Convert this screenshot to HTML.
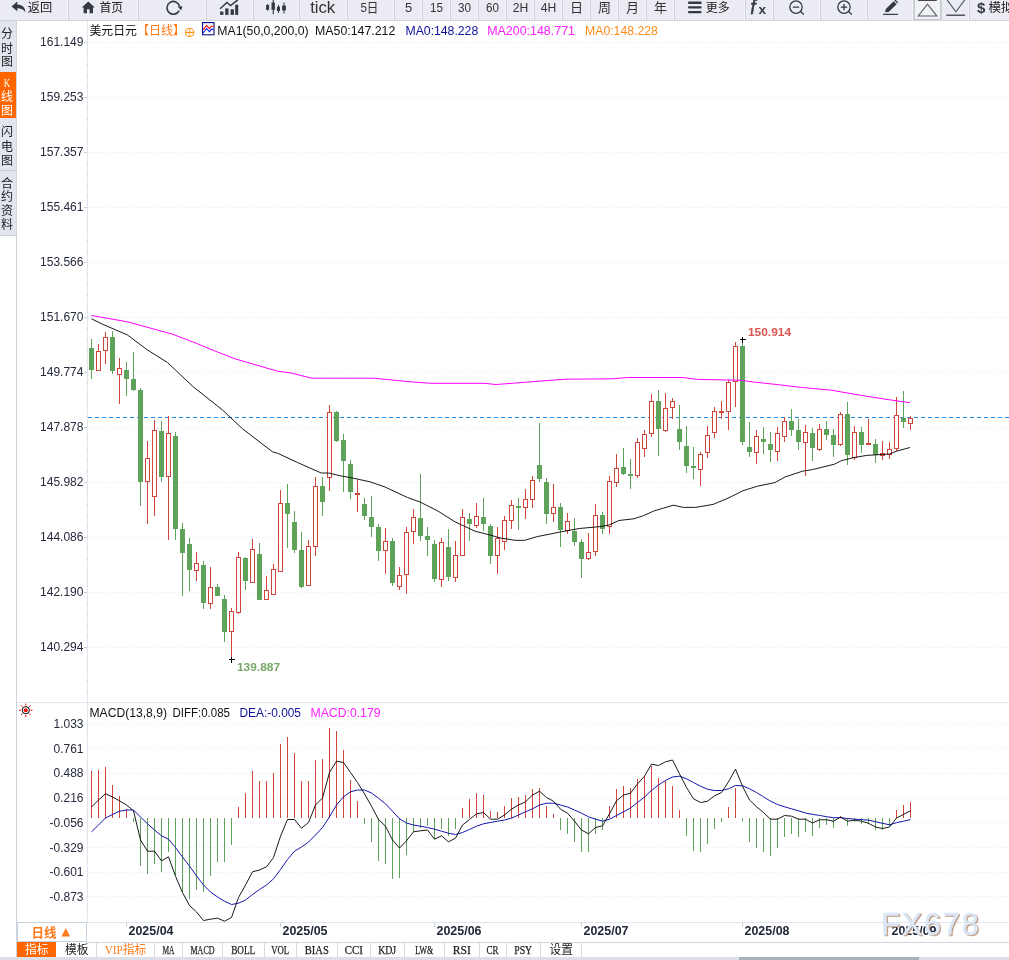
<!DOCTYPE html><html lang="zh"><head><meta charset="utf-8"><title>美元日元 日线</title>
<style>html,body{margin:0;padding:0;background:#fff;}body{width:1009px;height:960px;overflow:hidden;position:relative;font-family:"Liberation Sans","Noto Sans CJK SC",sans-serif;}svg{position:absolute;left:0;top:0;display:block}text{font-family:"Liberation Sans","Noto Sans CJK SC",sans-serif;}</style></head><body>
<svg width="1009" height="960" viewBox="0 0 1009 960">
<rect width="1009" height="960" fill="#fff"/>
<g id="chart">
<g shape-rendering="crispEdges">
<line x1="88" x2="1009" y1="42.5" y2="42.5" stroke="#e5eaf1" stroke-dasharray="1 2"/>
<line x1="88" x2="1009" y1="97.5" y2="97.5" stroke="#e5eaf1" stroke-dasharray="1 2"/>
<line x1="88" x2="1009" y1="152.5" y2="152.5" stroke="#e5eaf1" stroke-dasharray="1 2"/>
<line x1="88" x2="1009" y1="207.5" y2="207.5" stroke="#e5eaf1" stroke-dasharray="1 2"/>
<line x1="88" x2="1009" y1="262.5" y2="262.5" stroke="#e5eaf1" stroke-dasharray="1 2"/>
<line x1="88" x2="1009" y1="317.5" y2="317.5" stroke="#e5eaf1" stroke-dasharray="1 2"/>
<line x1="88" x2="1009" y1="372.5" y2="372.5" stroke="#e5eaf1" stroke-dasharray="1 2"/>
<line x1="88" x2="1009" y1="427.5" y2="427.5" stroke="#e5eaf1" stroke-dasharray="1 2"/>
<line x1="88" x2="1009" y1="482.5" y2="482.5" stroke="#e5eaf1" stroke-dasharray="1 2"/>
<line x1="88" x2="1009" y1="537.5" y2="537.5" stroke="#e5eaf1" stroke-dasharray="1 2"/>
<line x1="88" x2="1009" y1="592.5" y2="592.5" stroke="#e5eaf1" stroke-dasharray="1 2"/>
<line x1="88" x2="1009" y1="647.5" y2="647.5" stroke="#e5eaf1" stroke-dasharray="1 2"/>
<line x1="88" x2="1009" y1="723.5" y2="723.5" stroke="#e5eaf1" stroke-dasharray="1 2"/>
<line x1="88" x2="1009" y1="748.5" y2="748.5" stroke="#e5eaf1" stroke-dasharray="1 2"/>
<line x1="88" x2="1009" y1="773.5" y2="773.5" stroke="#e5eaf1" stroke-dasharray="1 2"/>
<line x1="88" x2="1009" y1="798.5" y2="798.5" stroke="#e5eaf1" stroke-dasharray="1 2"/>
<line x1="88" x2="1009" y1="822.5" y2="822.5" stroke="#e5eaf1" stroke-dasharray="1 2"/>
<line x1="88" x2="1009" y1="847.5" y2="847.5" stroke="#e5eaf1" stroke-dasharray="1 2"/>
<line x1="88" x2="1009" y1="872.5" y2="872.5" stroke="#e5eaf1" stroke-dasharray="1 2"/>
<line x1="88" x2="1009" y1="896.5" y2="896.5" stroke="#e5eaf1" stroke-dasharray="1 2"/>
<line x1="87.5" x2="87.5" y1="21" y2="922" stroke="#e0e6ee"/>
<line x1="84.0" x2="87" y1="42.5" y2="42.5" stroke="#c8ced8"/>
<line x1="86.0" x2="87" y1="53.5" y2="53.5" stroke="#d3dae3"/>
<line x1="86.0" x2="87" y1="64.5" y2="64.5" stroke="#d3dae3"/>
<line x1="86.0" x2="87" y1="75.5" y2="75.5" stroke="#d3dae3"/>
<line x1="86.0" x2="87" y1="86.5" y2="86.5" stroke="#d3dae3"/>
<line x1="84.0" x2="87" y1="97.5" y2="97.5" stroke="#c8ced8"/>
<line x1="86.0" x2="87" y1="108.5" y2="108.5" stroke="#d3dae3"/>
<line x1="86.0" x2="87" y1="119.5" y2="119.5" stroke="#d3dae3"/>
<line x1="86.0" x2="87" y1="130.5" y2="130.5" stroke="#d3dae3"/>
<line x1="86.0" x2="87" y1="141.5" y2="141.5" stroke="#d3dae3"/>
<line x1="84.0" x2="87" y1="152.5" y2="152.5" stroke="#c8ced8"/>
<line x1="86.0" x2="87" y1="163.5" y2="163.5" stroke="#d3dae3"/>
<line x1="86.0" x2="87" y1="174.5" y2="174.5" stroke="#d3dae3"/>
<line x1="86.0" x2="87" y1="185.5" y2="185.5" stroke="#d3dae3"/>
<line x1="86.0" x2="87" y1="196.5" y2="196.5" stroke="#d3dae3"/>
<line x1="84.0" x2="87" y1="207.5" y2="207.5" stroke="#c8ced8"/>
<line x1="86.0" x2="87" y1="218.5" y2="218.5" stroke="#d3dae3"/>
<line x1="86.0" x2="87" y1="229.5" y2="229.5" stroke="#d3dae3"/>
<line x1="86.0" x2="87" y1="240.5" y2="240.5" stroke="#d3dae3"/>
<line x1="86.0" x2="87" y1="251.5" y2="251.5" stroke="#d3dae3"/>
<line x1="84.0" x2="87" y1="262.5" y2="262.5" stroke="#c8ced8"/>
<line x1="86.0" x2="87" y1="273.5" y2="273.5" stroke="#d3dae3"/>
<line x1="86.0" x2="87" y1="284.5" y2="284.5" stroke="#d3dae3"/>
<line x1="86.0" x2="87" y1="295.5" y2="295.5" stroke="#d3dae3"/>
<line x1="86.0" x2="87" y1="306.5" y2="306.5" stroke="#d3dae3"/>
<line x1="84.0" x2="87" y1="317.5" y2="317.5" stroke="#c8ced8"/>
<line x1="86.0" x2="87" y1="328.5" y2="328.5" stroke="#d3dae3"/>
<line x1="86.0" x2="87" y1="339.5" y2="339.5" stroke="#d3dae3"/>
<line x1="86.0" x2="87" y1="350.5" y2="350.5" stroke="#d3dae3"/>
<line x1="86.0" x2="87" y1="361.5" y2="361.5" stroke="#d3dae3"/>
<line x1="84.0" x2="87" y1="372.5" y2="372.5" stroke="#c8ced8"/>
<line x1="86.0" x2="87" y1="383.5" y2="383.5" stroke="#d3dae3"/>
<line x1="86.0" x2="87" y1="394.5" y2="394.5" stroke="#d3dae3"/>
<line x1="86.0" x2="87" y1="405.5" y2="405.5" stroke="#d3dae3"/>
<line x1="86.0" x2="87" y1="416.5" y2="416.5" stroke="#d3dae3"/>
<line x1="84.0" x2="87" y1="427.5" y2="427.5" stroke="#c8ced8"/>
<line x1="86.0" x2="87" y1="438.5" y2="438.5" stroke="#d3dae3"/>
<line x1="86.0" x2="87" y1="449.5" y2="449.5" stroke="#d3dae3"/>
<line x1="86.0" x2="87" y1="460.5" y2="460.5" stroke="#d3dae3"/>
<line x1="86.0" x2="87" y1="471.5" y2="471.5" stroke="#d3dae3"/>
<line x1="84.0" x2="87" y1="482.5" y2="482.5" stroke="#c8ced8"/>
<line x1="86.0" x2="87" y1="493.5" y2="493.5" stroke="#d3dae3"/>
<line x1="86.0" x2="87" y1="504.5" y2="504.5" stroke="#d3dae3"/>
<line x1="86.0" x2="87" y1="515.5" y2="515.5" stroke="#d3dae3"/>
<line x1="86.0" x2="87" y1="526.5" y2="526.5" stroke="#d3dae3"/>
<line x1="84.0" x2="87" y1="537.5" y2="537.5" stroke="#c8ced8"/>
<line x1="86.0" x2="87" y1="548.5" y2="548.5" stroke="#d3dae3"/>
<line x1="86.0" x2="87" y1="559.5" y2="559.5" stroke="#d3dae3"/>
<line x1="86.0" x2="87" y1="570.5" y2="570.5" stroke="#d3dae3"/>
<line x1="86.0" x2="87" y1="581.5" y2="581.5" stroke="#d3dae3"/>
<line x1="84.0" x2="87" y1="592.5" y2="592.5" stroke="#c8ced8"/>
<line x1="86.0" x2="87" y1="603.5" y2="603.5" stroke="#d3dae3"/>
<line x1="86.0" x2="87" y1="614.5" y2="614.5" stroke="#d3dae3"/>
<line x1="86.0" x2="87" y1="625.5" y2="625.5" stroke="#d3dae3"/>
<line x1="86.0" x2="87" y1="636.5" y2="636.5" stroke="#d3dae3"/>
<line x1="84.0" x2="87" y1="647.5" y2="647.5" stroke="#c8ced8"/>
<line x1="86.0" x2="87" y1="658.5" y2="658.5" stroke="#d3dae3"/>
<line x1="86.0" x2="87" y1="669.5" y2="669.5" stroke="#d3dae3"/>
<line x1="86.0" x2="87" y1="680.5" y2="680.5" stroke="#d3dae3"/>
<line x1="86.0" x2="87" y1="691.5" y2="691.5" stroke="#d3dae3"/>
<line x1="85.5" x2="87" y1="723.5" y2="723.5" stroke="#e0e6ee"/>
<line x1="85.5" x2="87" y1="735.9" y2="735.9" stroke="#e0e6ee"/>
<line x1="85.5" x2="87" y1="748.2" y2="748.2" stroke="#e0e6ee"/>
<line x1="85.5" x2="87" y1="760.6" y2="760.6" stroke="#e0e6ee"/>
<line x1="85.5" x2="87" y1="772.9" y2="772.9" stroke="#e0e6ee"/>
<line x1="85.5" x2="87" y1="785.3" y2="785.3" stroke="#e0e6ee"/>
<line x1="85.5" x2="87" y1="797.6" y2="797.6" stroke="#e0e6ee"/>
<line x1="85.5" x2="87" y1="810.0" y2="810.0" stroke="#e0e6ee"/>
<line x1="85.5" x2="87" y1="822.3" y2="822.3" stroke="#e0e6ee"/>
<line x1="85.5" x2="87" y1="834.7" y2="834.7" stroke="#e0e6ee"/>
<line x1="85.5" x2="87" y1="847.0" y2="847.0" stroke="#e0e6ee"/>
<line x1="85.5" x2="87" y1="859.4" y2="859.4" stroke="#e0e6ee"/>
<line x1="85.5" x2="87" y1="871.7" y2="871.7" stroke="#e0e6ee"/>
<line x1="85.5" x2="87" y1="884.1" y2="884.1" stroke="#e0e6ee"/>
<line x1="85.5" x2="87" y1="896.4" y2="896.4" stroke="#e0e6ee"/>
<line x1="85.5" x2="87" y1="908.8" y2="908.8" stroke="#e0e6ee"/>
<line x1="17" x2="1009" y1="702.5" y2="702.5" stroke="#e0e6ee"/>
<line x1="17" x2="1009" y1="922.5" y2="922.5" stroke="#e0e6ee"/>
<line x1="87" x2="1009" y1="942.5" y2="942.5" stroke="#cdd6e0"/>
<line x1="16.5" x2="16.5" y1="235" y2="957" stroke="#cdd3dd"/>
<line x1="126.5" x2="126.5" y1="923" y2="927" stroke="#c5cfda"/>
<line x1="280.5" x2="280.5" y1="923" y2="927" stroke="#c5cfda"/>
<line x1="434.5" x2="434.5" y1="923" y2="927" stroke="#c5cfda"/>
<line x1="581.5" x2="581.5" y1="923" y2="927" stroke="#c5cfda"/>
<line x1="742.5" x2="742.5" y1="923" y2="927" stroke="#c5cfda"/>
<line x1="889.5" x2="889.5" y1="923" y2="927" stroke="#c5cfda"/>
</g>
<line x1="88" x2="1009" y1="417.5" y2="417.5" stroke="#1e8bf0" stroke-width="1" stroke-dasharray="4 3" shape-rendering="crispEdges"/>
<g shape-rendering="crispEdges">
<line x1="91.5" x2="91.5" y1="339" y2="379" stroke="#5fa35b"/>
<rect x="89" y="348" width="5" height="22" fill="#5fa35b"/>
<line x1="98.5" x2="98.5" y1="344" y2="351" stroke="#d2453d"/>
<rect x="96.5" y="351.5" width="4" height="19" fill="#fff" stroke="#d2453d"/>
<line x1="105.5" x2="105.5" y1="332" y2="337" stroke="#d2453d"/>
<line x1="105.5" x2="105.5" y1="351" y2="364" stroke="#d2453d"/>
<rect x="103.5" y="337.5" width="4" height="13" fill="#fff" stroke="#d2453d"/>
<line x1="112.5" x2="112.5" y1="331" y2="374" stroke="#5fa35b"/>
<rect x="110" y="337" width="5" height="34" fill="#5fa35b"/>
<line x1="119.5" x2="119.5" y1="358" y2="368" stroke="#d2453d"/>
<line x1="119.5" x2="119.5" y1="375" y2="404" stroke="#d2453d"/>
<rect x="117.5" y="368.5" width="4" height="6" fill="#fff" stroke="#d2453d"/>
<line x1="126.5" x2="126.5" y1="362" y2="396" stroke="#5fa35b"/>
<rect x="124" y="370" width="5" height="9" fill="#5fa35b"/>
<line x1="133.5" x2="133.5" y1="352" y2="391" stroke="#5fa35b"/>
<rect x="131" y="379" width="5" height="11" fill="#5fa35b"/>
<line x1="140.5" x2="140.5" y1="388" y2="506" stroke="#5fa35b"/>
<rect x="138" y="390" width="5" height="92" fill="#5fa35b"/>
<line x1="147.5" x2="147.5" y1="441" y2="458" stroke="#d2453d"/>
<line x1="147.5" x2="147.5" y1="482" y2="524" stroke="#d2453d"/>
<rect x="145.5" y="458.5" width="4" height="23" fill="#fff" stroke="#d2453d"/>
<line x1="154.5" x2="154.5" y1="420" y2="430" stroke="#d2453d"/>
<line x1="154.5" x2="154.5" y1="497" y2="516" stroke="#d2453d"/>
<rect x="152.5" y="430.5" width="4" height="66" fill="#fff" stroke="#d2453d"/>
<line x1="161.5" x2="161.5" y1="421" y2="482" stroke="#5fa35b"/>
<rect x="159" y="431" width="5" height="46" fill="#5fa35b"/>
<line x1="168.5" x2="168.5" y1="416" y2="433" stroke="#d2453d"/>
<line x1="168.5" x2="168.5" y1="477" y2="540" stroke="#d2453d"/>
<rect x="166.5" y="433.5" width="4" height="43" fill="#fff" stroke="#d2453d"/>
<line x1="175.5" x2="175.5" y1="432" y2="540" stroke="#5fa35b"/>
<rect x="173" y="436" width="5" height="93" fill="#5fa35b"/>
<line x1="182.5" x2="182.5" y1="523" y2="596" stroke="#5fa35b"/>
<rect x="180" y="529" width="5" height="24" fill="#5fa35b"/>
<line x1="189.5" x2="189.5" y1="538" y2="591" stroke="#5fa35b"/>
<rect x="187" y="544" width="5" height="26" fill="#5fa35b"/>
<line x1="196.5" x2="196.5" y1="552" y2="563" stroke="#d2453d"/>
<line x1="196.5" x2="196.5" y1="571" y2="581" stroke="#d2453d"/>
<rect x="194.5" y="563.5" width="4" height="7" fill="#fff" stroke="#d2453d"/>
<line x1="203.5" x2="203.5" y1="561" y2="609" stroke="#5fa35b"/>
<rect x="201" y="565" width="5" height="38" fill="#5fa35b"/>
<line x1="210.5" x2="210.5" y1="567" y2="587" stroke="#d2453d"/>
<line x1="210.5" x2="210.5" y1="604" y2="609" stroke="#d2453d"/>
<rect x="208.5" y="587.5" width="4" height="16" fill="#fff" stroke="#d2453d"/>
<line x1="217.5" x2="217.5" y1="584" y2="596" stroke="#5fa35b"/>
<rect x="215" y="587" width="5" height="9" fill="#5fa35b"/>
<line x1="224.5" x2="224.5" y1="595" y2="642" stroke="#5fa35b"/>
<rect x="222" y="599" width="5" height="33" fill="#5fa35b"/>
<line x1="231.5" x2="231.5" y1="608" y2="611" stroke="#d2453d"/>
<line x1="231.5" x2="231.5" y1="632" y2="660" stroke="#d2453d"/>
<rect x="229.5" y="611.5" width="4" height="20" fill="#fff" stroke="#d2453d"/>
<line x1="238.5" x2="238.5" y1="552" y2="557" stroke="#d2453d"/>
<line x1="238.5" x2="238.5" y1="613" y2="614" stroke="#d2453d"/>
<rect x="236.5" y="557.5" width="4" height="55" fill="#fff" stroke="#d2453d"/>
<line x1="245.5" x2="245.5" y1="557" y2="590" stroke="#5fa35b"/>
<rect x="243" y="558" width="5" height="23" fill="#5fa35b"/>
<line x1="252.5" x2="252.5" y1="539" y2="549" stroke="#d2453d"/>
<rect x="250.5" y="549.5" width="4" height="33" fill="#fff" stroke="#d2453d"/>
<line x1="259.5" x2="259.5" y1="543" y2="600" stroke="#5fa35b"/>
<rect x="257" y="554" width="5" height="46" fill="#5fa35b"/>
<line x1="266.5" x2="266.5" y1="576" y2="590" stroke="#d2453d"/>
<rect x="264.5" y="590.5" width="4" height="9" fill="#fff" stroke="#d2453d"/>
<line x1="273.5" x2="273.5" y1="564" y2="569" stroke="#d2453d"/>
<rect x="271.5" y="569.5" width="4" height="25" fill="#fff" stroke="#d2453d"/>
<line x1="280.5" x2="280.5" y1="490" y2="503" stroke="#d2453d"/>
<rect x="278.5" y="503.5" width="4" height="68" fill="#fff" stroke="#d2453d"/>
<line x1="287.5" x2="287.5" y1="484" y2="548" stroke="#5fa35b"/>
<rect x="285" y="503" width="5" height="11" fill="#5fa35b"/>
<line x1="294.5" x2="294.5" y1="511" y2="553" stroke="#5fa35b"/>
<rect x="292" y="522" width="5" height="28" fill="#5fa35b"/>
<line x1="301.5" x2="301.5" y1="532" y2="588" stroke="#5fa35b"/>
<rect x="299" y="550" width="5" height="37" fill="#5fa35b"/>
<line x1="308.5" x2="308.5" y1="540" y2="546" stroke="#d2453d"/>
<rect x="306.5" y="546.5" width="4" height="39" fill="#fff" stroke="#d2453d"/>
<line x1="315.5" x2="315.5" y1="477" y2="486" stroke="#d2453d"/>
<line x1="315.5" x2="315.5" y1="547" y2="556" stroke="#d2453d"/>
<rect x="313.5" y="486.5" width="4" height="60" fill="#fff" stroke="#d2453d"/>
<line x1="322.5" x2="322.5" y1="477" y2="516" stroke="#5fa35b"/>
<rect x="320" y="486" width="5" height="16" fill="#5fa35b"/>
<line x1="329.5" x2="329.5" y1="405" y2="412" stroke="#d2453d"/>
<line x1="329.5" x2="329.5" y1="478" y2="491" stroke="#d2453d"/>
<rect x="327.5" y="412.5" width="4" height="65" fill="#fff" stroke="#d2453d"/>
<line x1="336.5" x2="336.5" y1="411" y2="442" stroke="#5fa35b"/>
<rect x="334" y="412" width="5" height="29" fill="#5fa35b"/>
<line x1="343.5" x2="343.5" y1="434" y2="492" stroke="#5fa35b"/>
<rect x="341" y="440" width="5" height="21" fill="#5fa35b"/>
<line x1="350.5" x2="350.5" y1="460" y2="499" stroke="#5fa35b"/>
<rect x="348" y="464" width="5" height="28" fill="#5fa35b"/>
<line x1="357.5" x2="357.5" y1="480" y2="493" stroke="#d2453d"/>
<line x1="357.5" x2="357.5" y1="495" y2="512" stroke="#d2453d"/>
<rect x="355" y="493" width="5" height="2" fill="#d2453d"/>
<line x1="364.5" x2="364.5" y1="498" y2="520" stroke="#5fa35b"/>
<rect x="362" y="504" width="5" height="12" fill="#5fa35b"/>
<line x1="371.5" x2="371.5" y1="496" y2="537" stroke="#5fa35b"/>
<rect x="369" y="517" width="5" height="10" fill="#5fa35b"/>
<line x1="378.5" x2="378.5" y1="524" y2="561" stroke="#5fa35b"/>
<rect x="376" y="527" width="5" height="24" fill="#5fa35b"/>
<line x1="385.5" x2="385.5" y1="528" y2="541" stroke="#d2453d"/>
<line x1="385.5" x2="385.5" y1="551" y2="574" stroke="#d2453d"/>
<rect x="383.5" y="541.5" width="4" height="9" fill="#fff" stroke="#d2453d"/>
<line x1="392.5" x2="392.5" y1="538" y2="586" stroke="#5fa35b"/>
<rect x="390" y="541" width="5" height="42" fill="#5fa35b"/>
<line x1="399.5" x2="399.5" y1="567" y2="575" stroke="#d2453d"/>
<line x1="399.5" x2="399.5" y1="587" y2="590" stroke="#d2453d"/>
<rect x="397.5" y="575.5" width="4" height="11" fill="#fff" stroke="#d2453d"/>
<line x1="406.5" x2="406.5" y1="527" y2="532" stroke="#d2453d"/>
<line x1="406.5" x2="406.5" y1="575" y2="594" stroke="#d2453d"/>
<rect x="404.5" y="532.5" width="4" height="42" fill="#fff" stroke="#d2453d"/>
<line x1="413.5" x2="413.5" y1="509" y2="517" stroke="#d2453d"/>
<line x1="413.5" x2="413.5" y1="532" y2="544" stroke="#d2453d"/>
<rect x="411.5" y="517.5" width="4" height="14" fill="#fff" stroke="#d2453d"/>
<line x1="420.5" x2="420.5" y1="474" y2="541" stroke="#5fa35b"/>
<rect x="418" y="518" width="5" height="18" fill="#5fa35b"/>
<line x1="427.5" x2="427.5" y1="527" y2="556" stroke="#5fa35b"/>
<rect x="425" y="536" width="5" height="4" fill="#5fa35b"/>
<line x1="434.5" x2="434.5" y1="540" y2="582" stroke="#5fa35b"/>
<rect x="432" y="544" width="5" height="35" fill="#5fa35b"/>
<line x1="441.5" x2="441.5" y1="538" y2="542" stroke="#d2453d"/>
<line x1="441.5" x2="441.5" y1="580" y2="587" stroke="#d2453d"/>
<rect x="439.5" y="542.5" width="4" height="37" fill="#fff" stroke="#d2453d"/>
<line x1="448.5" x2="448.5" y1="529" y2="581" stroke="#5fa35b"/>
<rect x="446" y="547" width="5" height="30" fill="#5fa35b"/>
<line x1="455.5" x2="455.5" y1="541" y2="555" stroke="#d2453d"/>
<line x1="455.5" x2="455.5" y1="578" y2="582" stroke="#d2453d"/>
<rect x="453.5" y="555.5" width="4" height="22" fill="#fff" stroke="#d2453d"/>
<line x1="462.5" x2="462.5" y1="509" y2="517" stroke="#d2453d"/>
<rect x="460.5" y="517.5" width="4" height="38" fill="#fff" stroke="#d2453d"/>
<line x1="469.5" x2="469.5" y1="513" y2="541" stroke="#5fa35b"/>
<rect x="467" y="519" width="5" height="5" fill="#5fa35b"/>
<line x1="476.5" x2="476.5" y1="503" y2="516" stroke="#d2453d"/>
<line x1="476.5" x2="476.5" y1="526" y2="528" stroke="#d2453d"/>
<rect x="474.5" y="516.5" width="4" height="9" fill="#fff" stroke="#d2453d"/>
<line x1="483.5" x2="483.5" y1="498" y2="531" stroke="#5fa35b"/>
<rect x="481" y="517" width="5" height="7" fill="#5fa35b"/>
<line x1="490.5" x2="490.5" y1="524" y2="564" stroke="#5fa35b"/>
<rect x="488" y="526" width="5" height="30" fill="#5fa35b"/>
<line x1="497.5" x2="497.5" y1="527" y2="538" stroke="#d2453d"/>
<line x1="497.5" x2="497.5" y1="556" y2="574" stroke="#d2453d"/>
<rect x="495.5" y="538.5" width="4" height="17" fill="#fff" stroke="#d2453d"/>
<line x1="504.5" x2="504.5" y1="516" y2="520" stroke="#d2453d"/>
<line x1="504.5" x2="504.5" y1="542" y2="550" stroke="#d2453d"/>
<rect x="502.5" y="520.5" width="4" height="21" fill="#fff" stroke="#d2453d"/>
<line x1="511.5" x2="511.5" y1="500" y2="505" stroke="#d2453d"/>
<line x1="511.5" x2="511.5" y1="521" y2="529" stroke="#d2453d"/>
<rect x="509.5" y="505.5" width="4" height="15" fill="#fff" stroke="#d2453d"/>
<line x1="518.5" x2="518.5" y1="498" y2="530" stroke="#5fa35b"/>
<rect x="516" y="506" width="5" height="2" fill="#5fa35b"/>
<line x1="525.5" x2="525.5" y1="489" y2="499" stroke="#d2453d"/>
<line x1="525.5" x2="525.5" y1="508" y2="519" stroke="#d2453d"/>
<rect x="523.5" y="499.5" width="4" height="8" fill="#fff" stroke="#d2453d"/>
<line x1="532.5" x2="532.5" y1="476" y2="480" stroke="#d2453d"/>
<line x1="532.5" x2="532.5" y1="500" y2="508" stroke="#d2453d"/>
<rect x="530.5" y="480.5" width="4" height="19" fill="#fff" stroke="#d2453d"/>
<line x1="539.5" x2="539.5" y1="423" y2="482" stroke="#5fa35b"/>
<rect x="537" y="465" width="5" height="14" fill="#5fa35b"/>
<line x1="546.5" x2="546.5" y1="478" y2="524" stroke="#5fa35b"/>
<rect x="544" y="482" width="5" height="32" fill="#5fa35b"/>
<line x1="553.5" x2="553.5" y1="484" y2="507" stroke="#d2453d"/>
<line x1="553.5" x2="553.5" y1="514" y2="522" stroke="#d2453d"/>
<rect x="551.5" y="507.5" width="4" height="6" fill="#fff" stroke="#d2453d"/>
<line x1="560.5" x2="560.5" y1="503" y2="547" stroke="#5fa35b"/>
<rect x="558" y="507" width="5" height="23" fill="#5fa35b"/>
<line x1="567.5" x2="567.5" y1="513" y2="521" stroke="#d2453d"/>
<line x1="567.5" x2="567.5" y1="531" y2="534" stroke="#d2453d"/>
<rect x="565.5" y="521.5" width="4" height="9" fill="#fff" stroke="#d2453d"/>
<line x1="574.5" x2="574.5" y1="518" y2="546" stroke="#5fa35b"/>
<rect x="572" y="531" width="5" height="11" fill="#5fa35b"/>
<line x1="581.5" x2="581.5" y1="539" y2="578" stroke="#5fa35b"/>
<rect x="579" y="542" width="5" height="17" fill="#5fa35b"/>
<line x1="588.5" x2="588.5" y1="533" y2="552" stroke="#d2453d"/>
<line x1="588.5" x2="588.5" y1="559" y2="560" stroke="#d2453d"/>
<rect x="586.5" y="552.5" width="4" height="6" fill="#fff" stroke="#d2453d"/>
<line x1="595.5" x2="595.5" y1="504" y2="515" stroke="#d2453d"/>
<line x1="595.5" x2="595.5" y1="552" y2="556" stroke="#d2453d"/>
<rect x="593.5" y="515.5" width="4" height="36" fill="#fff" stroke="#d2453d"/>
<line x1="602.5" x2="602.5" y1="512" y2="534" stroke="#5fa35b"/>
<rect x="600" y="515" width="5" height="14" fill="#5fa35b"/>
<line x1="609.5" x2="609.5" y1="476" y2="481" stroke="#d2453d"/>
<line x1="609.5" x2="609.5" y1="527" y2="534" stroke="#d2453d"/>
<rect x="607.5" y="481.5" width="4" height="45" fill="#fff" stroke="#d2453d"/>
<line x1="616.5" x2="616.5" y1="454" y2="468" stroke="#d2453d"/>
<line x1="616.5" x2="616.5" y1="483" y2="487" stroke="#d2453d"/>
<rect x="614.5" y="468.5" width="4" height="14" fill="#fff" stroke="#d2453d"/>
<line x1="623.5" x2="623.5" y1="448" y2="475" stroke="#5fa35b"/>
<rect x="621" y="467" width="5" height="7" fill="#5fa35b"/>
<line x1="630.5" x2="630.5" y1="459" y2="489" stroke="#5fa35b"/>
<rect x="628" y="474" width="5" height="2" fill="#5fa35b"/>
<line x1="637.5" x2="637.5" y1="438" y2="442" stroke="#d2453d"/>
<line x1="637.5" x2="637.5" y1="476" y2="478" stroke="#d2453d"/>
<rect x="635.5" y="442.5" width="4" height="33" fill="#fff" stroke="#d2453d"/>
<line x1="644.5" x2="644.5" y1="430" y2="434" stroke="#d2453d"/>
<line x1="644.5" x2="644.5" y1="449" y2="457" stroke="#d2453d"/>
<rect x="642.5" y="434.5" width="4" height="14" fill="#fff" stroke="#d2453d"/>
<line x1="651.5" x2="651.5" y1="394" y2="401" stroke="#d2453d"/>
<line x1="651.5" x2="651.5" y1="434" y2="437" stroke="#d2453d"/>
<rect x="649.5" y="401.5" width="4" height="32" fill="#fff" stroke="#d2453d"/>
<line x1="658.5" x2="658.5" y1="390" y2="456" stroke="#5fa35b"/>
<rect x="656" y="401" width="5" height="28" fill="#5fa35b"/>
<line x1="665.5" x2="665.5" y1="393" y2="408" stroke="#d2453d"/>
<line x1="665.5" x2="665.5" y1="431" y2="432" stroke="#d2453d"/>
<rect x="663.5" y="408.5" width="4" height="22" fill="#fff" stroke="#d2453d"/>
<line x1="672.5" x2="672.5" y1="398" y2="401" stroke="#d2453d"/>
<line x1="672.5" x2="672.5" y1="408" y2="419" stroke="#d2453d"/>
<rect x="670.5" y="401.5" width="4" height="6" fill="#fff" stroke="#d2453d"/>
<line x1="679.5" x2="679.5" y1="405" y2="450" stroke="#5fa35b"/>
<rect x="677" y="429" width="5" height="13" fill="#5fa35b"/>
<line x1="686.5" x2="686.5" y1="426" y2="473" stroke="#5fa35b"/>
<rect x="684" y="446" width="5" height="20" fill="#5fa35b"/>
<line x1="693.5" x2="693.5" y1="447" y2="479" stroke="#5fa35b"/>
<rect x="691" y="466" width="5" height="2" fill="#5fa35b"/>
<line x1="700.5" x2="700.5" y1="452" y2="454" stroke="#d2453d"/>
<line x1="700.5" x2="700.5" y1="470" y2="486" stroke="#d2453d"/>
<rect x="698.5" y="454.5" width="4" height="15" fill="#fff" stroke="#d2453d"/>
<line x1="707.5" x2="707.5" y1="426" y2="435" stroke="#d2453d"/>
<line x1="707.5" x2="707.5" y1="453" y2="458" stroke="#d2453d"/>
<rect x="705.5" y="435.5" width="4" height="17" fill="#fff" stroke="#d2453d"/>
<line x1="714.5" x2="714.5" y1="407" y2="411" stroke="#d2453d"/>
<line x1="714.5" x2="714.5" y1="433" y2="438" stroke="#d2453d"/>
<rect x="712.5" y="411.5" width="4" height="21" fill="#fff" stroke="#d2453d"/>
<line x1="721.5" x2="721.5" y1="401" y2="411" stroke="#d2453d"/>
<line x1="721.5" x2="721.5" y1="413" y2="419" stroke="#d2453d"/>
<rect x="719" y="411" width="5" height="2" fill="#d2453d"/>
<line x1="728.5" x2="728.5" y1="380" y2="382" stroke="#d2453d"/>
<line x1="728.5" x2="728.5" y1="412" y2="430" stroke="#d2453d"/>
<rect x="726.5" y="382.5" width="4" height="29" fill="#fff" stroke="#d2453d"/>
<line x1="735.5" x2="735.5" y1="342" y2="346" stroke="#d2453d"/>
<line x1="735.5" x2="735.5" y1="382" y2="407" stroke="#d2453d"/>
<rect x="733.5" y="346.5" width="4" height="35" fill="#fff" stroke="#d2453d"/>
<line x1="742.5" x2="742.5" y1="340" y2="445" stroke="#5fa35b"/>
<rect x="740" y="346" width="5" height="96" fill="#5fa35b"/>
<line x1="749.5" x2="749.5" y1="422" y2="457" stroke="#5fa35b"/>
<rect x="747" y="447" width="5" height="5" fill="#5fa35b"/>
<line x1="756.5" x2="756.5" y1="430" y2="436" stroke="#d2453d"/>
<line x1="756.5" x2="756.5" y1="453" y2="464" stroke="#d2453d"/>
<rect x="754.5" y="436.5" width="4" height="16" fill="#fff" stroke="#d2453d"/>
<line x1="763.5" x2="763.5" y1="427" y2="454" stroke="#5fa35b"/>
<rect x="761" y="439" width="5" height="3" fill="#5fa35b"/>
<line x1="770.5" x2="770.5" y1="432" y2="462" stroke="#5fa35b"/>
<rect x="768" y="444" width="5" height="6" fill="#5fa35b"/>
<line x1="777.5" x2="777.5" y1="427" y2="433" stroke="#d2453d"/>
<line x1="777.5" x2="777.5" y1="452" y2="461" stroke="#d2453d"/>
<rect x="775.5" y="433.5" width="4" height="18" fill="#fff" stroke="#d2453d"/>
<line x1="784.5" x2="784.5" y1="417" y2="421" stroke="#d2453d"/>
<line x1="784.5" x2="784.5" y1="437" y2="442" stroke="#d2453d"/>
<rect x="782.5" y="421.5" width="4" height="15" fill="#fff" stroke="#d2453d"/>
<line x1="791.5" x2="791.5" y1="409" y2="436" stroke="#5fa35b"/>
<rect x="789" y="421" width="5" height="9" fill="#5fa35b"/>
<line x1="798.5" x2="798.5" y1="419" y2="450" stroke="#5fa35b"/>
<rect x="796" y="430" width="5" height="12" fill="#5fa35b"/>
<line x1="805.5" x2="805.5" y1="425" y2="432" stroke="#d2453d"/>
<line x1="805.5" x2="805.5" y1="443" y2="476" stroke="#d2453d"/>
<rect x="803.5" y="432.5" width="4" height="10" fill="#fff" stroke="#d2453d"/>
<line x1="812.5" x2="812.5" y1="428" y2="461" stroke="#5fa35b"/>
<rect x="810" y="433" width="5" height="15" fill="#5fa35b"/>
<line x1="819.5" x2="819.5" y1="424" y2="429" stroke="#d2453d"/>
<line x1="819.5" x2="819.5" y1="450" y2="451" stroke="#d2453d"/>
<rect x="817.5" y="429.5" width="4" height="20" fill="#fff" stroke="#d2453d"/>
<line x1="826.5" x2="826.5" y1="421" y2="440" stroke="#5fa35b"/>
<rect x="824" y="429" width="5" height="6" fill="#5fa35b"/>
<line x1="833.5" x2="833.5" y1="429" y2="457" stroke="#5fa35b"/>
<rect x="831" y="435" width="5" height="10" fill="#5fa35b"/>
<line x1="840.5" x2="840.5" y1="412" y2="414" stroke="#d2453d"/>
<line x1="840.5" x2="840.5" y1="445" y2="446" stroke="#d2453d"/>
<rect x="838.5" y="414.5" width="4" height="30" fill="#fff" stroke="#d2453d"/>
<line x1="847.5" x2="847.5" y1="402" y2="465" stroke="#5fa35b"/>
<rect x="845" y="414" width="5" height="41" fill="#5fa35b"/>
<line x1="854.5" x2="854.5" y1="426" y2="432" stroke="#d2453d"/>
<line x1="854.5" x2="854.5" y1="458" y2="460" stroke="#d2453d"/>
<rect x="852.5" y="432.5" width="4" height="25" fill="#fff" stroke="#d2453d"/>
<line x1="861.5" x2="861.5" y1="427" y2="453" stroke="#5fa35b"/>
<rect x="859" y="432" width="5" height="13" fill="#5fa35b"/>
<line x1="868.5" x2="868.5" y1="419" y2="443" stroke="#d2453d"/>
<rect x="866" y="443" width="5" height="2" fill="#d2453d"/>
<line x1="875.5" x2="875.5" y1="439" y2="463" stroke="#5fa35b"/>
<rect x="873" y="444" width="5" height="11" fill="#5fa35b"/>
<line x1="882.5" x2="882.5" y1="441" y2="453" stroke="#d2453d"/>
<line x1="882.5" x2="882.5" y1="456" y2="460" stroke="#d2453d"/>
<rect x="880.5" y="453.5" width="4" height="2" fill="#fff" stroke="#d2453d"/>
<line x1="889.5" x2="889.5" y1="442" y2="449" stroke="#d2453d"/>
<line x1="889.5" x2="889.5" y1="455" y2="459" stroke="#d2453d"/>
<rect x="887.5" y="449.5" width="4" height="5" fill="#fff" stroke="#d2453d"/>
<line x1="896.5" x2="896.5" y1="397" y2="415" stroke="#d2453d"/>
<line x1="896.5" x2="896.5" y1="449" y2="451" stroke="#d2453d"/>
<rect x="894.5" y="415.5" width="4" height="33" fill="#fff" stroke="#d2453d"/>
<line x1="903.5" x2="903.5" y1="391" y2="428" stroke="#5fa35b"/>
<rect x="901" y="418" width="5" height="4" fill="#5fa35b"/>
<line x1="910.5" x2="910.5" y1="416" y2="418" stroke="#d2453d"/>
<line x1="910.5" x2="910.5" y1="424" y2="430" stroke="#d2453d"/>
<rect x="908.5" y="418.5" width="4" height="5" fill="#fff" stroke="#d2453d"/>
</g>
<polyline fill="none" stroke="#ff00ff" stroke-width="1.0" stroke-linejoin="round" points="91.5,315.5 127.5,321.8 172.5,334.2 197.5,343.8 217.5,352.0 235.0,358.8 277.5,371.2 292.5,373.2 300.0,375.3 312.0,378.2 374.0,378.2 389.0,379.7 410.0,381.8 431.0,383.3 484.0,383.3 496.0,384.5 508.0,383.6 535.0,381.5 565.0,379.2 612.5,378.8 627.5,377.5 682.5,377.5 697.5,379.4 740.0,380.2 752.5,381.9 777.5,384.6 802.5,387.5 831.2,390.2 862.5,395.6 889.6,399.8 910.0,402.7"/>
<polyline fill="none" stroke="#000" stroke-width="0.9" stroke-linejoin="round" points="91.5,318.8 102.5,324.2 127.5,335.0 147.5,350.0 167.5,362.5 192.5,386.2 222.5,410.0 242.5,428.8 272.5,451.8 277.5,453.2 297.5,462.5 321.2,473.0 328.8,473.0 340.0,475.8 350.0,477.5 370.0,481.8 385.0,487.0 407.5,497.5 420.0,502.0 437.5,510.8 455.0,521.8 475.0,531.2 490.0,535.0 500.0,537.9 514.9,540.3 524.8,540.3 537.2,536.6 561.9,531.7 579.3,528.5 599.1,526.7 609.0,525.0 618.9,520.5 633.8,518.8 643.7,515.6 653.6,511.1 663.5,508.1 673.4,505.2 683.3,507.4 695.7,507.4 713.1,504.4 728.0,498.2 742.8,490.8 757.5,486.2 775.0,482.5 785.0,477.0 802.5,471.2 812.5,469.6 834.4,464.2 841.7,460.6 854.2,457.5 866.7,455.4 889.6,454.0 896.5,451.2 910.0,447.5"/>
<path d="M739.5 339.5h6M742.5 336.5v6" stroke="#000" stroke-width="1" shape-rendering="crispEdges"/>
<text x="748" y="336" font-size="11" font-weight="bold" fill="#d9534f" textLength="43" lengthAdjust="spacingAndGlyphs">150.914</text>
<path d="M228.5 659.5h6M231.5 656.5v6" stroke="#000" stroke-width="1" shape-rendering="crispEdges"/>
<text x="237" y="671" font-size="11" font-weight="bold" fill="#78a868" textLength="43" lengthAdjust="spacingAndGlyphs">139.887</text>
<g shape-rendering="crispEdges">
<line x1="91.5" x2="91.5" y1="771" y2="818" stroke="#d2453d"/>
<line x1="98.5" x2="98.5" y1="770" y2="818" stroke="#d2453d"/>
<line x1="105.5" x2="105.5" y1="767" y2="818" stroke="#d2453d"/>
<line x1="112.5" x2="112.5" y1="785" y2="818" stroke="#d2453d"/>
<line x1="119.5" x2="119.5" y1="796" y2="818" stroke="#d2453d"/>
<line x1="126.5" x2="126.5" y1="809" y2="818" stroke="#d2453d"/>
<line x1="133.5" x2="133.5" y1="822" y2="818" stroke="#5fa35b"/>
<line x1="140.5" x2="140.5" y1="866" y2="818" stroke="#5fa35b"/>
<line x1="147.5" x2="147.5" y1="874" y2="818" stroke="#5fa35b"/>
<line x1="154.5" x2="154.5" y1="864" y2="818" stroke="#5fa35b"/>
<line x1="161.5" x2="161.5" y1="872" y2="818" stroke="#5fa35b"/>
<line x1="168.5" x2="168.5" y1="852" y2="818" stroke="#5fa35b"/>
<line x1="175.5" x2="175.5" y1="875" y2="818" stroke="#5fa35b"/>
<line x1="182.5" x2="182.5" y1="892" y2="818" stroke="#5fa35b"/>
<line x1="189.5" x2="189.5" y1="899" y2="818" stroke="#5fa35b"/>
<line x1="196.5" x2="196.5" y1="890" y2="818" stroke="#5fa35b"/>
<line x1="203.5" x2="203.5" y1="892" y2="818" stroke="#5fa35b"/>
<line x1="210.5" x2="210.5" y1="876" y2="818" stroke="#5fa35b"/>
<line x1="217.5" x2="217.5" y1="862" y2="818" stroke="#5fa35b"/>
<line x1="224.5" x2="224.5" y1="862" y2="818" stroke="#5fa35b"/>
<line x1="231.5" x2="231.5" y1="845" y2="818" stroke="#5fa35b"/>
<line x1="238.5" x2="238.5" y1="807" y2="818" stroke="#d2453d"/>
<line x1="245.5" x2="245.5" y1="793" y2="818" stroke="#d2453d"/>
<line x1="252.5" x2="252.5" y1="771" y2="818" stroke="#d2453d"/>
<line x1="259.5" x2="259.5" y1="781" y2="818" stroke="#d2453d"/>
<line x1="266.5" x2="266.5" y1="781" y2="818" stroke="#d2453d"/>
<line x1="273.5" x2="273.5" y1="773" y2="818" stroke="#d2453d"/>
<line x1="280.5" x2="280.5" y1="744" y2="818" stroke="#d2453d"/>
<line x1="287.5" x2="287.5" y1="737" y2="818" stroke="#d2453d"/>
<line x1="294.5" x2="294.5" y1="753" y2="818" stroke="#d2453d"/>
<line x1="301.5" x2="301.5" y1="781" y2="818" stroke="#d2453d"/>
<line x1="308.5" x2="308.5" y1="781" y2="818" stroke="#d2453d"/>
<line x1="315.5" x2="315.5" y1="760" y2="818" stroke="#d2453d"/>
<line x1="322.5" x2="322.5" y1="759" y2="818" stroke="#d2453d"/>
<line x1="329.5" x2="329.5" y1="728" y2="818" stroke="#d2453d"/>
<line x1="336.5" x2="336.5" y1="731" y2="818" stroke="#d2453d"/>
<line x1="343.5" x2="343.5" y1="750" y2="818" stroke="#d2453d"/>
<line x1="350.5" x2="350.5" y1="780" y2="818" stroke="#d2453d"/>
<line x1="357.5" x2="357.5" y1="801" y2="818" stroke="#d2453d"/>
<line x1="364.5" x2="364.5" y1="824" y2="818" stroke="#5fa35b"/>
<line x1="371.5" x2="371.5" y1="842" y2="818" stroke="#5fa35b"/>
<line x1="378.5" x2="378.5" y1="861" y2="818" stroke="#5fa35b"/>
<line x1="385.5" x2="385.5" y1="864" y2="818" stroke="#5fa35b"/>
<line x1="392.5" x2="392.5" y1="879" y2="818" stroke="#5fa35b"/>
<line x1="399.5" x2="399.5" y1="878" y2="818" stroke="#5fa35b"/>
<line x1="406.5" x2="406.5" y1="855" y2="818" stroke="#5fa35b"/>
<line x1="413.5" x2="413.5" y1="832" y2="818" stroke="#5fa35b"/>
<line x1="420.5" x2="420.5" y1="828" y2="818" stroke="#5fa35b"/>
<line x1="427.5" x2="427.5" y1="826" y2="818" stroke="#5fa35b"/>
<line x1="434.5" x2="434.5" y1="839" y2="818" stroke="#5fa35b"/>
<line x1="441.5" x2="441.5" y1="829" y2="818" stroke="#5fa35b"/>
<line x1="448.5" x2="448.5" y1="836" y2="818" stroke="#5fa35b"/>
<line x1="455.5" x2="455.5" y1="829" y2="818" stroke="#5fa35b"/>
<line x1="462.5" x2="462.5" y1="808" y2="818" stroke="#d2453d"/>
<line x1="469.5" x2="469.5" y1="799" y2="818" stroke="#d2453d"/>
<line x1="476.5" x2="476.5" y1="793" y2="818" stroke="#d2453d"/>
<line x1="483.5" x2="483.5" y1="795" y2="818" stroke="#d2453d"/>
<line x1="490.5" x2="490.5" y1="811" y2="818" stroke="#d2453d"/>
<line x1="497.5" x2="497.5" y1="812" y2="818" stroke="#d2453d"/>
<line x1="504.5" x2="504.5" y1="806" y2="818" stroke="#d2453d"/>
<line x1="511.5" x2="511.5" y1="798" y2="818" stroke="#d2453d"/>
<line x1="518.5" x2="518.5" y1="797" y2="818" stroke="#d2453d"/>
<line x1="525.5" x2="525.5" y1="795" y2="818" stroke="#d2453d"/>
<line x1="532.5" x2="532.5" y1="789" y2="818" stroke="#d2453d"/>
<line x1="539.5" x2="539.5" y1="788" y2="818" stroke="#d2453d"/>
<line x1="546.5" x2="546.5" y1="806" y2="818" stroke="#d2453d"/>
<line x1="553.5" x2="553.5" y1="814" y2="818" stroke="#d2453d"/>
<line x1="560.5" x2="560.5" y1="830" y2="818" stroke="#5fa35b"/>
<line x1="567.5" x2="567.5" y1="834" y2="818" stroke="#5fa35b"/>
<line x1="574.5" x2="574.5" y1="842" y2="818" stroke="#5fa35b"/>
<line x1="581.5" x2="581.5" y1="852" y2="818" stroke="#5fa35b"/>
<line x1="588.5" x2="588.5" y1="852" y2="818" stroke="#5fa35b"/>
<line x1="595.5" x2="595.5" y1="834" y2="818" stroke="#5fa35b"/>
<line x1="602.5" x2="602.5" y1="830" y2="818" stroke="#5fa35b"/>
<line x1="609.5" x2="609.5" y1="806" y2="818" stroke="#d2453d"/>
<line x1="616.5" x2="616.5" y1="789" y2="818" stroke="#d2453d"/>
<line x1="623.5" x2="623.5" y1="786" y2="818" stroke="#d2453d"/>
<line x1="630.5" x2="630.5" y1="788" y2="818" stroke="#d2453d"/>
<line x1="637.5" x2="637.5" y1="779" y2="818" stroke="#d2453d"/>
<line x1="644.5" x2="644.5" y1="776" y2="818" stroke="#d2453d"/>
<line x1="651.5" x2="651.5" y1="766" y2="818" stroke="#d2453d"/>
<line x1="658.5" x2="658.5" y1="778" y2="818" stroke="#d2453d"/>
<line x1="665.5" x2="665.5" y1="781" y2="818" stroke="#d2453d"/>
<line x1="672.5" x2="672.5" y1="786" y2="818" stroke="#d2453d"/>
<line x1="679.5" x2="679.5" y1="810" y2="818" stroke="#d2453d"/>
<line x1="686.5" x2="686.5" y1="836" y2="818" stroke="#5fa35b"/>
<line x1="693.5" x2="693.5" y1="851" y2="818" stroke="#5fa35b"/>
<line x1="700.5" x2="700.5" y1="852" y2="818" stroke="#5fa35b"/>
<line x1="707.5" x2="707.5" y1="844" y2="818" stroke="#5fa35b"/>
<line x1="714.5" x2="714.5" y1="829" y2="818" stroke="#5fa35b"/>
<line x1="721.5" x2="721.5" y1="822" y2="818" stroke="#5fa35b"/>
<line x1="728.5" x2="728.5" y1="807" y2="818" stroke="#d2453d"/>
<line x1="735.5" x2="735.5" y1="788" y2="818" stroke="#d2453d"/>
<line x1="742.5" x2="742.5" y1="821" y2="818" stroke="#5fa35b"/>
<line x1="749.5" x2="749.5" y1="842" y2="818" stroke="#5fa35b"/>
<line x1="756.5" x2="756.5" y1="848" y2="818" stroke="#5fa35b"/>
<line x1="763.5" x2="763.5" y1="852" y2="818" stroke="#5fa35b"/>
<line x1="770.5" x2="770.5" y1="856" y2="818" stroke="#5fa35b"/>
<line x1="777.5" x2="777.5" y1="848" y2="818" stroke="#5fa35b"/>
<line x1="784.5" x2="784.5" y1="837" y2="818" stroke="#5fa35b"/>
<line x1="791.5" x2="791.5" y1="834" y2="818" stroke="#5fa35b"/>
<line x1="798.5" x2="798.5" y1="837" y2="818" stroke="#5fa35b"/>
<line x1="805.5" x2="805.5" y1="832" y2="818" stroke="#5fa35b"/>
<line x1="812.5" x2="812.5" y1="836" y2="818" stroke="#5fa35b"/>
<line x1="819.5" x2="819.5" y1="828" y2="818" stroke="#5fa35b"/>
<line x1="826.5" x2="826.5" y1="825" y2="818" stroke="#5fa35b"/>
<line x1="833.5" x2="833.5" y1="828" y2="818" stroke="#5fa35b"/>
<line x1="840.5" x2="840.5" y1="816" y2="818" stroke="#d2453d"/>
<line x1="847.5" x2="847.5" y1="826" y2="818" stroke="#5fa35b"/>
<line x1="854.5" x2="854.5" y1="822" y2="818" stroke="#5fa35b"/>
<line x1="861.5" x2="861.5" y1="824" y2="818" stroke="#5fa35b"/>
<line x1="868.5" x2="868.5" y1="824" y2="818" stroke="#5fa35b"/>
<line x1="875.5" x2="875.5" y1="830" y2="818" stroke="#5fa35b"/>
<line x1="882.5" x2="882.5" y1="830" y2="818" stroke="#5fa35b"/>
<line x1="889.5" x2="889.5" y1="826" y2="818" stroke="#5fa35b"/>
<line x1="896.5" x2="896.5" y1="810" y2="818" stroke="#d2453d"/>
<line x1="903.5" x2="903.5" y1="805" y2="818" stroke="#d2453d"/>
<line x1="910.5" x2="910.5" y1="802" y2="818" stroke="#d2453d"/>
</g>
<polyline fill="none" stroke="#0808a8" stroke-width="0.95" stroke-linejoin="round" points="91.5,831.8 98.5,825.0 105.5,818.0 112.5,814.5 119.5,811.2 126.5,810.0 133.5,810.0 140.5,817.0 147.5,823.8 154.5,830.0 161.5,835.8 168.5,839.2 175.5,847.5 182.5,857.0 189.5,866.2 196.5,875.8 203.5,885.0 210.5,892.0 217.5,897.0 224.5,901.2 231.5,904.5 238.5,903.2 245.5,900.0 252.5,894.5 259.5,889.5 266.5,885.0 273.5,878.8 280.5,869.5 287.5,859.5 294.5,851.2 301.5,847.0 308.5,842.0 315.5,835.0 322.5,827.5 329.5,816.8 336.5,805.0 343.5,796.8 350.5,791.8 357.5,790.0 364.5,790.0 371.5,793.0 378.5,798.2 385.5,803.8 392.5,811.2 399.5,818.8 406.5,823.0 413.5,825.0 420.5,826.2 427.5,827.5 434.5,829.2 441.5,831.2 448.5,833.2 455.5,834.5 462.5,832.5 469.5,829.5 476.5,826.2 483.5,823.8 490.5,822.5 497.5,821.2 504.5,820.0 511.5,818.2 518.5,815.0 525.5,811.8 532.5,808.8 539.5,805.0 546.5,803.2 553.5,803.2 560.5,805.0 567.5,807.0 574.5,810.0 581.5,813.2 588.5,816.8 595.5,819.2 602.5,821.2 609.5,819.2 616.5,815.5 623.5,811.8 630.5,808.0 637.5,802.5 644.5,797.0 651.5,790.5 658.5,785.0 665.5,780.5 672.5,777.0 679.5,776.2 686.5,778.8 693.5,782.5 700.5,786.2 707.5,789.2 714.5,790.5 721.5,790.5 728.5,788.8 735.5,785.5 742.5,785.8 749.5,788.8 756.5,792.5 763.5,796.8 770.5,801.2 777.5,804.5 784.5,806.8 791.5,808.8 798.5,810.8 805.5,813.0 812.5,814.4 819.5,815.4 826.5,816.7 833.5,817.7 840.5,817.7 847.5,818.5 854.5,819.2 861.5,819.6 868.5,820.2 875.5,821.7 882.5,823.3 889.5,824.8 896.5,822.7 903.5,821.2 910.5,819.6"/>
<polyline fill="none" stroke="#000" stroke-width="0.9" stroke-linejoin="round" points="91.5,807.0 98.5,800.0 105.5,793.8 112.5,797.0 119.5,800.8 126.5,805.0 133.5,810.8 140.5,840.0 147.5,851.2 154.5,851.2 161.5,860.8 168.5,856.8 175.5,876.2 182.5,892.5 189.5,905.5 196.5,912.0 203.5,920.5 210.5,919.2 217.5,918.2 224.5,921.2 231.5,917.5 238.5,897.5 245.5,885.0 252.5,871.8 259.5,870.0 266.5,866.8 273.5,857.5 280.5,836.2 287.5,819.5 294.5,819.5 301.5,828.2 308.5,822.5 315.5,805.0 322.5,798.0 329.5,772.5 336.5,761.2 343.5,762.5 350.5,772.5 357.5,782.5 364.5,793.8 371.5,806.2 378.5,819.5 385.5,826.2 392.5,840.0 399.5,848.0 406.5,840.8 413.5,831.8 420.5,830.8 427.5,830.0 434.5,839.2 441.5,835.8 448.5,841.8 455.5,838.2 462.5,825.0 469.5,819.5 476.5,813.8 483.5,812.5 490.5,819.2 497.5,819.2 504.5,815.0 511.5,809.2 518.5,805.0 525.5,801.8 532.5,795.0 539.5,791.2 546.5,797.5 553.5,801.2 560.5,809.2 567.5,813.2 574.5,821.2 581.5,830.0 588.5,833.8 595.5,827.5 602.5,825.8 609.5,813.8 616.5,800.8 623.5,795.0 630.5,793.2 637.5,783.8 644.5,776.2 651.5,764.2 658.5,765.5 665.5,761.8 672.5,760.0 679.5,773.8 686.5,787.5 693.5,798.8 700.5,802.5 707.5,801.2 714.5,795.8 721.5,792.5 728.5,781.8 735.5,769.2 742.5,786.2 749.5,800.0 756.5,806.8 763.5,812.5 770.5,819.2 777.5,819.2 784.5,815.5 791.5,816.2 798.5,819.2 805.5,819.2 812.5,823.0 819.5,819.8 826.5,819.8 833.5,821.2 840.5,817.0 847.5,821.2 854.5,820.2 861.5,821.2 868.5,823.3 875.5,827.0 882.5,828.5 889.5,827.0 896.5,818.1 903.5,814.4 910.5,810.8"/>
<text x="83.5" y="46.0" font-size="12" fill="#262a3c" text-anchor="end" textLength="43.5" lengthAdjust="spacingAndGlyphs">161.149</text>
<text x="83.5" y="101.0" font-size="12" fill="#262a3c" text-anchor="end" textLength="43.5" lengthAdjust="spacingAndGlyphs">159.253</text>
<text x="83.5" y="156.0" font-size="12" fill="#262a3c" text-anchor="end" textLength="43.5" lengthAdjust="spacingAndGlyphs">157.357</text>
<text x="83.5" y="211.0" font-size="12" fill="#262a3c" text-anchor="end" textLength="43.5" lengthAdjust="spacingAndGlyphs">155.461</text>
<text x="83.5" y="266.0" font-size="12" fill="#262a3c" text-anchor="end" textLength="43.5" lengthAdjust="spacingAndGlyphs">153.566</text>
<text x="83.5" y="321.0" font-size="12" fill="#262a3c" text-anchor="end" textLength="43.5" lengthAdjust="spacingAndGlyphs">151.670</text>
<text x="83.5" y="376.0" font-size="12" fill="#262a3c" text-anchor="end" textLength="43.5" lengthAdjust="spacingAndGlyphs">149.774</text>
<text x="83.5" y="431.0" font-size="12" fill="#262a3c" text-anchor="end" textLength="43.5" lengthAdjust="spacingAndGlyphs">147.878</text>
<text x="83.5" y="486.0" font-size="12" fill="#262a3c" text-anchor="end" textLength="43.5" lengthAdjust="spacingAndGlyphs">145.982</text>
<text x="83.5" y="541.0" font-size="12" fill="#262a3c" text-anchor="end" textLength="43.5" lengthAdjust="spacingAndGlyphs">144.086</text>
<text x="83.5" y="596.0" font-size="12" fill="#262a3c" text-anchor="end" textLength="43.5" lengthAdjust="spacingAndGlyphs">142.190</text>
<text x="83.5" y="651.0" font-size="12" fill="#262a3c" text-anchor="end" textLength="43.5" lengthAdjust="spacingAndGlyphs">140.294</text>
<text x="83.5" y="728.3" font-size="12" fill="#262a3c" text-anchor="end">1.033</text>
<text x="83.5" y="752.8" font-size="12" fill="#262a3c" text-anchor="end">0.761</text>
<text x="83.5" y="777.3" font-size="12" fill="#262a3c" text-anchor="end">0.488</text>
<text x="83.5" y="802.3" font-size="12" fill="#262a3c" text-anchor="end">0.216</text>
<text x="83.5" y="826.8" font-size="12" fill="#262a3c" text-anchor="end">-0.056</text>
<text x="83.5" y="851.8" font-size="12" fill="#262a3c" text-anchor="end">-0.329</text>
<text x="83.5" y="876.3" font-size="12" fill="#262a3c" text-anchor="end">-0.601</text>
<text x="83.5" y="901.3" font-size="12" fill="#262a3c" text-anchor="end">-0.873</text>
<text x="128.5" y="935" font-size="12" font-weight="bold" fill="#222838" textLength="45" lengthAdjust="spacingAndGlyphs">2025/04</text>
<text x="282.5" y="935" font-size="12" font-weight="bold" fill="#222838" textLength="45" lengthAdjust="spacingAndGlyphs">2025/05</text>
<text x="436.5" y="935" font-size="12" font-weight="bold" fill="#222838" textLength="45" lengthAdjust="spacingAndGlyphs">2025/06</text>
<text x="583.5" y="935" font-size="12" font-weight="bold" fill="#222838" textLength="45" lengthAdjust="spacingAndGlyphs">2025/07</text>
<text x="744.5" y="935" font-size="12" font-weight="bold" fill="#222838" textLength="45" lengthAdjust="spacingAndGlyphs">2025/08</text>
<text x="891.5" y="935" font-size="12" font-weight="bold" fill="#222838" textLength="45" lengthAdjust="spacingAndGlyphs">2025/09</text>
<text x="89.5" y="34.5" font-size="12" fill="#111" textLength="47.5" lengthAdjust="spacingAndGlyphs">美元日元</text>
<text x="137" y="34.5" font-size="12" fill="#ff7a1a" textLength="48" lengthAdjust="spacingAndGlyphs">【日线】</text>
<g stroke="#ff8c00" fill="none" stroke-width="1"><circle cx="189.6" cy="32.4" r="4.1"/><path d="M185.5 32.4h8.2" stroke-width="1.1"/><path d="M189.6 28.3v8.2" stroke-width="0.7"/></g>
<g><rect x="202.6" y="22.6" width="11.4" height="12.1" fill="#fff" stroke="#00008b" stroke-width="1.1"/><path d="M202.6 34.9h11.6M214.6 23.5v11.4" stroke="#8a8a90" stroke-width="0.6" fill="none"/><path d="M203.2 29.8L206.6 25.4L209.5 28.7L211.3 26.3H213.4" stroke="#ff1010" fill="none" stroke-width="1.1"/><path d="M203.2 33L206.6 28.5L209.5 31.6L211.3 29.4H213.4" stroke="#1020ff" fill="none" stroke-width="1.1"/></g>
<text x="217.3" y="34.5" font-size="12" fill="#111" textLength="91.3" lengthAdjust="spacingAndGlyphs">MA1(50,0,200,0)</text>
<text x="315" y="34.5" font-size="12" fill="#111" textLength="80.3" lengthAdjust="spacingAndGlyphs">MA50:147.212</text>
<text x="405.5" y="34.5" font-size="12" fill="#10109a" textLength="72.7" lengthAdjust="spacingAndGlyphs">MA0:148.228</text>
<text x="487.2" y="34.5" font-size="12" fill="#ff20ff" textLength="87.8" lengthAdjust="spacingAndGlyphs">MA200:148.771</text>
<text x="585.1" y="34.5" font-size="12" fill="#ff8c1a" textLength="72.7" lengthAdjust="spacingAndGlyphs">MA0:148.228</text>
<g><circle cx="25.8" cy="710.2" r="3.6" fill="none" stroke="#000" stroke-width="1"/><circle cx="25.8" cy="710.2" r="2" fill="#f00"/><path d="M25.8 703.5v2M25.8 715v2M19 710.2h2M30.5 710.2h2M21 705.4l1.4 1.4M29.2 713.6l1.4 1.4M30.6 705.4l-1.4 1.4M22.4 713.6l-1.4 1.4" stroke="#f00" stroke-width="1"/></g>
<text x="89.5" y="717" font-size="12" fill="#111" textLength="77.5" lengthAdjust="spacingAndGlyphs">MACD(13,8,9)</text>
<text x="172.5" y="717" font-size="12" fill="#111" textLength="57.5" lengthAdjust="spacingAndGlyphs">DIFF:0.085</text>
<text x="239.5" y="717" font-size="12" fill="#10109a" textLength="61.5" lengthAdjust="spacingAndGlyphs">DEA:-0.005</text>
<text x="310.5" y="717" font-size="12" fill="#ff20ff" textLength="70" lengthAdjust="spacingAndGlyphs">MACD:0.179</text>
</g>
<g id="bottom-tabs">
<rect x="17.5" y="922.5" width="69" height="19" fill="#fff" stroke="#c8d2de" shape-rendering="crispEdges"/>
<text x="31.5" y="937.4" font-size="13" font-weight="bold" fill="#ff7a1a" textLength="25" lengthAdjust="spacingAndGlyphs">日线</text>
<path d="M61.5 936.5l4.3-8.5 4.3 8.5z" fill="#ff7a1a"/>
<rect x="17" y="942" width="39" height="15" fill="#ff6600"/>
<g shape-rendering="crispEdges">
<line x1="96.5" x2="96.5" y1="943" y2="957" stroke="#d4dbe4"/>
<line x1="154.5" x2="154.5" y1="943" y2="957" stroke="#d4dbe4"/>
<line x1="182.5" x2="182.5" y1="943" y2="957" stroke="#d4dbe4"/>
<line x1="222.5" x2="222.5" y1="943" y2="957" stroke="#d4dbe4"/>
<line x1="264.5" x2="264.5" y1="943" y2="957" stroke="#d4dbe4"/>
<line x1="296.5" x2="296.5" y1="943" y2="957" stroke="#d4dbe4"/>
<line x1="337.5" x2="337.5" y1="943" y2="957" stroke="#d4dbe4"/>
<line x1="370.5" x2="370.5" y1="943" y2="957" stroke="#d4dbe4"/>
<line x1="404.5" x2="404.5" y1="943" y2="957" stroke="#d4dbe4"/>
<line x1="444.5" x2="444.5" y1="943" y2="957" stroke="#d4dbe4"/>
<line x1="479.5" x2="479.5" y1="943" y2="957" stroke="#d4dbe4"/>
<line x1="506.5" x2="506.5" y1="943" y2="957" stroke="#d4dbe4"/>
<line x1="540.5" x2="540.5" y1="943" y2="957" stroke="#d4dbe4"/>
<line x1="581.5" x2="581.5" y1="943" y2="957" stroke="#d4dbe4"/>
</g>
<text x="36.8" y="954" font-size="12" fill="#fff" text-anchor="middle" textLength="23.5" lengthAdjust="spacingAndGlyphs">指标</text>
<text x="76.8" y="954" font-size="12" fill="#222" text-anchor="middle" textLength="23.5" lengthAdjust="spacingAndGlyphs">模板</text>
<text x="125.5" y="954" font-size="12.5" fill="#ff7a1a" text-anchor="middle" textLength="41.5" lengthAdjust="spacingAndGlyphs"><tspan style="font-family:'Liberation Serif',serif" font-size="12">VIP</tspan>指标</text>
<text x="168.5" y="953.7" font-size="12" fill="#222" text-anchor="middle" textLength="12" lengthAdjust="spacingAndGlyphs" stroke="#222" stroke-width="0.25" style="font-family:'Liberation Serif',serif">MA</text>
<text x="202.5" y="953.7" font-size="12" fill="#222" text-anchor="middle" textLength="24" lengthAdjust="spacingAndGlyphs" stroke="#222" stroke-width="0.25" style="font-family:'Liberation Serif',serif">MACD</text>
<text x="243.2" y="953.7" font-size="12" fill="#222" text-anchor="middle" textLength="24" lengthAdjust="spacingAndGlyphs" stroke="#222" stroke-width="0.25" style="font-family:'Liberation Serif',serif">BOLL</text>
<text x="280.2" y="953.7" font-size="12" fill="#222" text-anchor="middle" textLength="18" lengthAdjust="spacingAndGlyphs" stroke="#222" stroke-width="0.25" style="font-family:'Liberation Serif',serif">VOL</text>
<text x="316.8" y="953.7" font-size="12" fill="#222" text-anchor="middle" textLength="24" lengthAdjust="spacingAndGlyphs" stroke="#222" stroke-width="0.25" style="font-family:'Liberation Serif',serif">BIAS</text>
<text x="353.8" y="953.7" font-size="12" fill="#222" text-anchor="middle" textLength="18" lengthAdjust="spacingAndGlyphs" stroke="#222" stroke-width="0.25" style="font-family:'Liberation Serif',serif">CCI</text>
<text x="387.2" y="953.7" font-size="12" fill="#222" text-anchor="middle" textLength="18" lengthAdjust="spacingAndGlyphs" stroke="#222" stroke-width="0.25" style="font-family:'Liberation Serif',serif">KDJ</text>
<text x="424.2" y="953.7" font-size="12" fill="#222" text-anchor="middle" textLength="18" lengthAdjust="spacingAndGlyphs" stroke="#222" stroke-width="0.25" style="font-family:'Liberation Serif',serif">LW&amp;</text>
<text x="461.8" y="953.7" font-size="12" fill="#222" text-anchor="middle" textLength="18" lengthAdjust="spacingAndGlyphs" stroke="#222" stroke-width="0.25" style="font-family:'Liberation Serif',serif">RSI</text>
<text x="492.5" y="953.7" font-size="12" fill="#222" text-anchor="middle" textLength="12" lengthAdjust="spacingAndGlyphs" stroke="#222" stroke-width="0.25" style="font-family:'Liberation Serif',serif">CR</text>
<text x="523.2" y="953.7" font-size="12" fill="#222" text-anchor="middle" textLength="18" lengthAdjust="spacingAndGlyphs" stroke="#222" stroke-width="0.25" style="font-family:'Liberation Serif',serif">PSY</text>
<text x="561.2" y="954" font-size="12" fill="#222" text-anchor="middle" textLength="23.5" lengthAdjust="spacingAndGlyphs">设置</text>
<rect x="0" y="957" width="1009" height="3" fill="#dcdfe5"/>
<rect x="739" y="957" width="180" height="3" fill="#aab0bb"/>
</g>
<g id="watermark">
<text x="882.4" y="936.2" font-size="30.5" fill="#c09a80" letter-spacing="1.9" stroke="#c09a80" stroke-width="0.5">FX678</text>
<text x="881.2" y="935.1" font-size="30.5" fill="#dbe7f7" letter-spacing="1.9" stroke="#dbe7f7" stroke-width="0.5">FX678</text>
</g>
<g id="sidebar">
<rect x="0" y="21" width="16" height="214" fill="#e2e5ed"/>
<rect x="0" y="72" width="16" height="46" fill="#ff6600"/>
<g shape-rendering="crispEdges"><line x1="0" x2="16" y1="170.5" y2="170.5" stroke="#c9ced8"/><line x1="0" x2="16" y1="235.5" y2="235.5" stroke="#c9ced8"/><line x1="16.5" x2="16.5" y1="21" y2="235" stroke="#d0d5de"/></g>
<text x="7" y="38.4" font-size="12" fill="#222" text-anchor="middle">分</text>
<text x="7" y="52.6" font-size="12" fill="#222" text-anchor="middle">时</text>
<text x="7" y="66.1" font-size="12" fill="#222" text-anchor="middle">图</text>
<text x="7" y="87" font-size="12.5" fill="#fff" text-anchor="middle" textLength="6.5" lengthAdjust="spacingAndGlyphs" style="font-family:'Liberation Serif',serif">K</text>
<text x="7" y="100.8" font-size="12" fill="#fff" text-anchor="middle">线</text>
<text x="7" y="114.6" font-size="12" fill="#fff" text-anchor="middle">图</text>
<text x="7" y="135.6" font-size="12" fill="#222" text-anchor="middle">闪</text>
<text x="7" y="150.6" font-size="12" fill="#222" text-anchor="middle">电</text>
<text x="7" y="164.6" font-size="12" fill="#222" text-anchor="middle">图</text>
<text x="7" y="188.3" font-size="12" fill="#222" text-anchor="middle">合</text>
<text x="7" y="201.3" font-size="12" fill="#222" text-anchor="middle">约</text>
<text x="7" y="214.6" font-size="12" fill="#222" text-anchor="middle">资</text>
<text x="7" y="229.1" font-size="12" fill="#222" text-anchor="middle">料</text>
</g>
<g id="toolbar">
<rect x="0" y="0" width="1009" height="20" fill="#eaebf3"/>
<rect x="0" y="20" width="1009" height="1" fill="#d0d1da"/>
<g shape-rendering="crispEdges">
<line x1="68.5" x2="68.5" y1="0" y2="21" stroke="#d0d1da"/>
<line x1="67.5" x2="67.5" y1="0" y2="21" stroke="#f3f4f8"/>
<line x1="138.5" x2="138.5" y1="0" y2="21" stroke="#d0d1da"/>
<line x1="137.5" x2="137.5" y1="0" y2="21" stroke="#f3f4f8"/>
<line x1="206.5" x2="206.5" y1="0" y2="21" stroke="#d0d1da"/>
<line x1="205.5" x2="205.5" y1="0" y2="21" stroke="#f3f4f8"/>
<line x1="253.5" x2="253.5" y1="0" y2="21" stroke="#d0d1da"/>
<line x1="252.5" x2="252.5" y1="0" y2="21" stroke="#f3f4f8"/>
<line x1="299.5" x2="299.5" y1="0" y2="21" stroke="#d0d1da"/>
<line x1="298.5" x2="298.5" y1="0" y2="21" stroke="#f3f4f8"/>
<line x1="347.5" x2="347.5" y1="0" y2="21" stroke="#d0d1da"/>
<line x1="346.5" x2="346.5" y1="0" y2="21" stroke="#f3f4f8"/>
<line x1="394.5" x2="394.5" y1="0" y2="21" stroke="#d0d1da"/>
<line x1="393.5" x2="393.5" y1="0" y2="21" stroke="#f3f4f8"/>
<line x1="422.5" x2="422.5" y1="0" y2="21" stroke="#d0d1da"/>
<line x1="421.5" x2="421.5" y1="0" y2="21" stroke="#f3f4f8"/>
<line x1="450.5" x2="450.5" y1="0" y2="21" stroke="#d0d1da"/>
<line x1="449.5" x2="449.5" y1="0" y2="21" stroke="#f3f4f8"/>
<line x1="478.5" x2="478.5" y1="0" y2="21" stroke="#d0d1da"/>
<line x1="477.5" x2="477.5" y1="0" y2="21" stroke="#f3f4f8"/>
<line x1="506.5" x2="506.5" y1="0" y2="21" stroke="#d0d1da"/>
<line x1="505.5" x2="505.5" y1="0" y2="21" stroke="#f3f4f8"/>
<line x1="534.5" x2="534.5" y1="0" y2="21" stroke="#d0d1da"/>
<line x1="533.5" x2="533.5" y1="0" y2="21" stroke="#f3f4f8"/>
<line x1="562.5" x2="562.5" y1="0" y2="21" stroke="#d0d1da"/>
<line x1="561.5" x2="561.5" y1="0" y2="21" stroke="#f3f4f8"/>
<line x1="590.5" x2="590.5" y1="0" y2="21" stroke="#d0d1da"/>
<line x1="589.5" x2="589.5" y1="0" y2="21" stroke="#f3f4f8"/>
<line x1="618.5" x2="618.5" y1="0" y2="21" stroke="#d0d1da"/>
<line x1="617.5" x2="617.5" y1="0" y2="21" stroke="#f3f4f8"/>
<line x1="646.5" x2="646.5" y1="0" y2="21" stroke="#d0d1da"/>
<line x1="645.5" x2="645.5" y1="0" y2="21" stroke="#f3f4f8"/>
<line x1="674.5" x2="674.5" y1="0" y2="21" stroke="#d0d1da"/>
<line x1="673.5" x2="673.5" y1="0" y2="21" stroke="#f3f4f8"/>
<line x1="745.5" x2="745.5" y1="0" y2="21" stroke="#d0d1da"/>
<line x1="744.5" x2="744.5" y1="0" y2="21" stroke="#f3f4f8"/>
<line x1="773.5" x2="773.5" y1="0" y2="21" stroke="#d0d1da"/>
<line x1="772.5" x2="772.5" y1="0" y2="21" stroke="#f3f4f8"/>
<line x1="820.5" x2="820.5" y1="0" y2="21" stroke="#d0d1da"/>
<line x1="819.5" x2="819.5" y1="0" y2="21" stroke="#f3f4f8"/>
<line x1="867.5" x2="867.5" y1="0" y2="21" stroke="#d0d1da"/>
<line x1="866.5" x2="866.5" y1="0" y2="21" stroke="#f3f4f8"/>
<line x1="913.5" x2="913.5" y1="0" y2="21" stroke="#d0d1da"/>
<line x1="912.5" x2="912.5" y1="0" y2="21" stroke="#f3f4f8"/>
<line x1="941.5" x2="941.5" y1="0" y2="21" stroke="#d0d1da"/>
<line x1="940.5" x2="940.5" y1="0" y2="21" stroke="#f3f4f8"/>
<line x1="969.5" x2="969.5" y1="0" y2="21" stroke="#d0d1da"/>
<line x1="968.5" x2="968.5" y1="0" y2="21" stroke="#f3f4f8"/>
</g>
<path d="M11.5 6.4L17.3 1.6V4.6C22.5 4.8 25.3 7.8 25.3 12.2C23.4 9.3 21 8.4 17.3 8.3V11.2Z" fill="#333a45"/>
<text x="27.8" y="11.5" font-size="12.5" fill="#222" textLength="24.4" lengthAdjust="spacingAndGlyphs">返回</text>
<path d="M88.3 1.6L81.8 7.6H83.6V13.2H87V9.2H89.6V13.2H93V7.6H94.8Z" fill="#333a45"/>
<text x="99.4" y="11.5" font-size="12.5" fill="#222" textLength="23.6" lengthAdjust="spacingAndGlyphs">首页</text>
<path d="M179.6 6.2A6.4 6.4 0 1 0 179.2 10.6" fill="none" stroke="#333a45" stroke-width="1.6"/>
<path d="M177.6 6.6L182.4 6.2L181.2 10.4Z" fill="#333a45"/>
<g fill="#333a45"><rect x="220.1" y="11.5" width="3.3" height="3.4"/><rect x="225.2" y="8.4" width="3.3" height="6.5"/><rect x="230.6" y="9.3" width="3.3" height="5.6"/><rect x="235.2" y="4.7" width="3" height="10.2"/></g>
<path d="M220.1 8.8L226.9 2.5L230.6 5.6L237.9 -0.2" fill="none" stroke="#333a45" stroke-width="1.5"/>
<g fill="#333a45"><rect x="267.1" y="4" width="1" height="6.6"/><rect x="266.1" y="5" width="3" height="4.8"/><rect x="272.7" y="0" width="1.1" height="14.3"/><rect x="271.5" y="2.5" width="3.4" height="7.3"/><rect x="278" y="5" width="1" height="8"/><rect x="276.9" y="6.7" width="3.1" height="4.3"/><rect x="283.5" y="2.5" width="1.1" height="11"/><rect x="282.1" y="5.6" width="3.8" height="4.8"/></g>
<text x="310.2" y="12.6" font-size="16" fill="#333" textLength="25" lengthAdjust="spacingAndGlyphs">tick</text>
<text x="360.4" y="11.7" font-size="13" fill="#333" textLength="18" lengthAdjust="spacingAndGlyphs">5日</text>
<text x="408.5" y="11.7" font-size="13" fill="#333" text-anchor="middle">5</text>
<text x="436.5" y="11.7" font-size="13" fill="#333" text-anchor="middle" textLength="13" lengthAdjust="spacingAndGlyphs">15</text>
<text x="464.5" y="11.7" font-size="13" fill="#333" text-anchor="middle" textLength="13" lengthAdjust="spacingAndGlyphs">30</text>
<text x="492.5" y="11.7" font-size="13" fill="#333" text-anchor="middle" textLength="13" lengthAdjust="spacingAndGlyphs">60</text>
<text x="520.5" y="11.7" font-size="13" fill="#333" text-anchor="middle" textLength="15.5" lengthAdjust="spacingAndGlyphs">2H</text>
<text x="548.5" y="11.7" font-size="13" fill="#333" text-anchor="middle" textLength="15.5" lengthAdjust="spacingAndGlyphs">4H</text>
<text x="576.5" y="11.7" font-size="13" fill="#333" text-anchor="middle">日</text>
<text x="604.5" y="11.7" font-size="13" fill="#333" text-anchor="middle">周</text>
<text x="632.5" y="11.7" font-size="13" fill="#333" text-anchor="middle">月</text>
<text x="660.5" y="11.7" font-size="13" fill="#333" text-anchor="middle">年</text>
<g fill="#333a45"><rect x="688" y="1.6" width="13.6" height="2.3" rx="1"/><rect x="688" y="6.2" width="13.6" height="2.3" rx="1"/><rect x="688" y="11" width="13.6" height="2.3" rx="1"/></g>
<text x="705.7" y="11.5" font-size="12.5" fill="#222" textLength="24" lengthAdjust="spacingAndGlyphs">更多</text>
<text x="750.3" y="13.8" font-size="19.5" font-style="italic" fill="#333a45" stroke="#333a45" stroke-width="0.45">f</text>
<text x="758.6" y="13.9" font-size="12.5" font-weight="bold" fill="#333a45" textLength="7.6" lengthAdjust="spacingAndGlyphs">x</text>
<g fill="none" stroke="#333a45" stroke-width="1.3"><circle cx="796" cy="7.1" r="6.2"/><path d="M792.8 7.1h6.4M800.5 11.6l3.4 2.9"/><circle cx="844" cy="7.1" r="6.2"/><path d="M840.8 7.1h6.4M844 3.9v6.4M848.5 11.6l3.4 2.9"/></g>
<path d="M883 14.4h15" stroke="#333a45" stroke-width="1.2"/>
<path d="M885 12.3L885.8 9L893.6 1.2L896.6 4.2L888.6 12Z" fill="#333a45"/>
<path d="M894.3 0.5L895.3 -0.5L898.2 2.5L897.3 3.5Z" fill="#333a45"/>
<rect x="914.5" y="-1" width="26" height="20.5" fill="#f1f2f6" stroke="#c4c8d0"/>
<path d="M918.2 16L927.5 4.2L936.8 16Z" fill="none" stroke="#5a5e66" stroke-width="1.2"/><path d="M918 0.3h18.8" stroke="#333" stroke-width="1.2"/>
<path d="M946.8 -0.5L965 -0.5L955.9 11.8Z" fill="none" stroke="#5a5e66" stroke-width="1.2"/><path d="M946.3 15.2h18.8" stroke="#333" stroke-width="1.2"/>
<text x="977" y="12.5" font-size="15" font-weight="bold" fill="#333a45">$</text>
<text x="988.5" y="11.5" font-size="12.5" fill="#222">模拟</text>
</g>
</svg></body></html>
